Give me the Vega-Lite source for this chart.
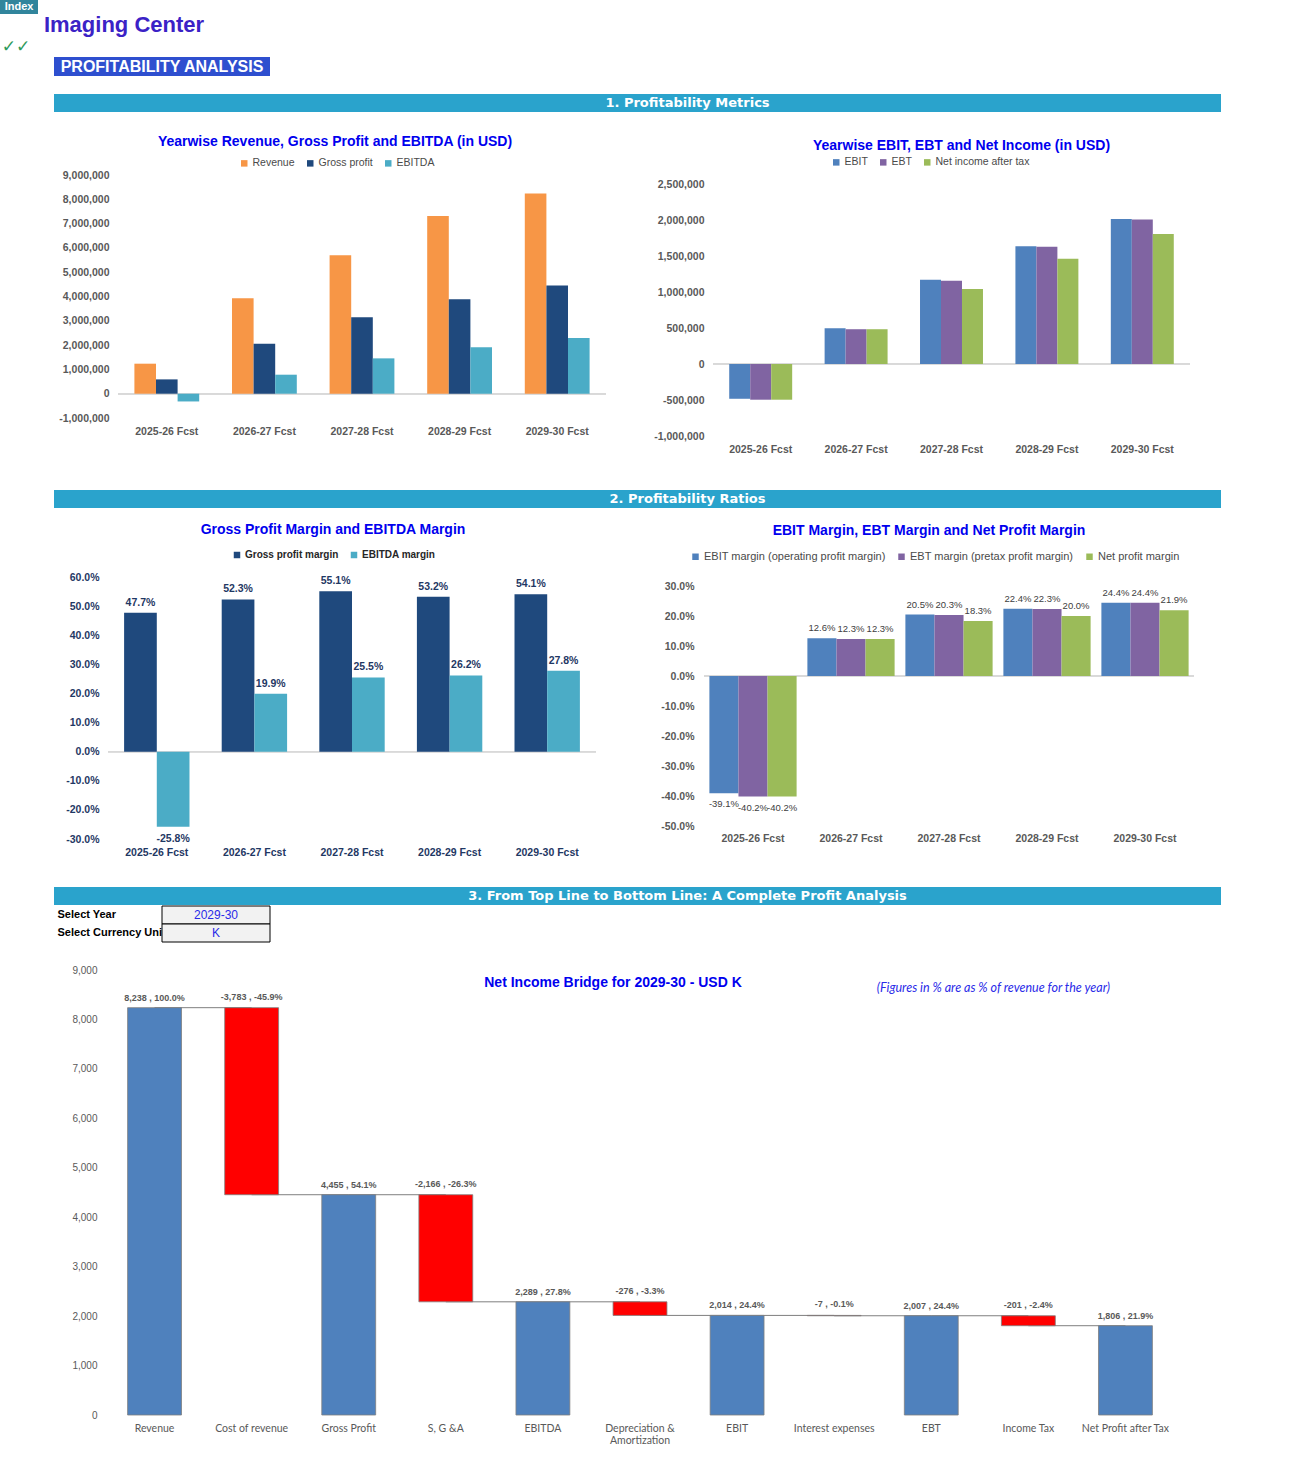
{
  "$schema": "https://vega.github.io/schema/vega-lite/v6.json",
  "background": "white",
  "padding": 0,
  "spacing": 0,
  "resolve": {"scale": {"color": "independent", "xOffset": "independent"}, "legend": {"color": "independent"}},
  "config": {
    "view": {"stroke": null},
    "font": "Liberation Sans",
    "locale": {"number": {"decimal": ".", "thousands": ",", "grouping": [3], "currency": ["$", ""], "minus": "-"}},
    "axis": {"ticks": false, "domain": false, "grid": false, "labelOverlap": false, "labelFontSize": 10.5, "labelFontWeight": "bold", "labelColor": "#595959", "labelFont": "Liberation Sans"},
    "axisX": {"labelAngle": 0, "labelPadding": 8},
    "axisY": {"labelPadding": 9},
    "legend": {"orient": "none", "direction": "horizontal", "symbolType": "square", "symbolSize": 42, "symbolStrokeWidth": 0, "labelFontSize": 10.5, "labelColor": "#4a4a4a", "columnPadding": 10, "labelOffset": 3, "padding": 0, "labelLimit": 0},
    "title": {"font": "Liberation Sans", "fontSize": 14, "fontWeight": "bold", "color": "#0000ee", "anchor": "middle", "frame": "group"}
  },
  "datasets": {
    "m1": [
      {"year": "2025-26 Fcst", "series": "Revenue", "value": 1235000},
      {"year": "2025-26 Fcst", "series": "Gross profit", "value": 589000},
      {"year": "2025-26 Fcst", "series": "EBITDA", "value": -319000},
      {"year": "2026-27 Fcst", "series": "Revenue", "value": 3930000},
      {"year": "2026-27 Fcst", "series": "Gross profit", "value": 2055000},
      {"year": "2026-27 Fcst", "series": "EBITDA", "value": 782000},
      {"year": "2027-28 Fcst", "series": "Revenue", "value": 5700000},
      {"year": "2027-28 Fcst", "series": "Gross profit", "value": 3141000},
      {"year": "2027-28 Fcst", "series": "EBITDA", "value": 1454000},
      {"year": "2028-29 Fcst", "series": "Revenue", "value": 7310000},
      {"year": "2028-29 Fcst", "series": "Gross profit", "value": 3889000},
      {"year": "2028-29 Fcst", "series": "EBITDA", "value": 1915000},
      {"year": "2029-30 Fcst", "series": "Revenue", "value": 8238000},
      {"year": "2029-30 Fcst", "series": "Gross profit", "value": 4455000},
      {"year": "2029-30 Fcst", "series": "EBITDA", "value": 2289000}
    ],
    "m2": [
      {"year": "2025-26 Fcst", "series": "EBIT", "value": -483000},
      {"year": "2025-26 Fcst", "series": "EBT", "value": -496000},
      {"year": "2025-26 Fcst", "series": "Net income after tax", "value": -496000},
      {"year": "2026-27 Fcst", "series": "EBIT", "value": 495000},
      {"year": "2026-27 Fcst", "series": "EBT", "value": 483000},
      {"year": "2026-27 Fcst", "series": "Net income after tax", "value": 483000},
      {"year": "2027-28 Fcst", "series": "EBIT", "value": 1169000},
      {"year": "2027-28 Fcst", "series": "EBT", "value": 1157000},
      {"year": "2027-28 Fcst", "series": "Net income after tax", "value": 1043000},
      {"year": "2028-29 Fcst", "series": "EBIT", "value": 1637000},
      {"year": "2028-29 Fcst", "series": "EBT", "value": 1630000},
      {"year": "2028-29 Fcst", "series": "Net income after tax", "value": 1462000},
      {"year": "2029-30 Fcst", "series": "EBIT", "value": 2014000},
      {"year": "2029-30 Fcst", "series": "EBT", "value": 2007000},
      {"year": "2029-30 Fcst", "series": "Net income after tax", "value": 1806000}
    ],
    "r1": [
      {"year": "2025-26 Fcst", "series": "Gross profit margin", "value": 0.477},
      {"year": "2025-26 Fcst", "series": "EBITDA margin", "value": -0.258},
      {"year": "2026-27 Fcst", "series": "Gross profit margin", "value": 0.523},
      {"year": "2026-27 Fcst", "series": "EBITDA margin", "value": 0.199},
      {"year": "2027-28 Fcst", "series": "Gross profit margin", "value": 0.551},
      {"year": "2027-28 Fcst", "series": "EBITDA margin", "value": 0.255},
      {"year": "2028-29 Fcst", "series": "Gross profit margin", "value": 0.532},
      {"year": "2028-29 Fcst", "series": "EBITDA margin", "value": 0.262},
      {"year": "2029-30 Fcst", "series": "Gross profit margin", "value": 0.541},
      {"year": "2029-30 Fcst", "series": "EBITDA margin", "value": 0.278}
    ],
    "r2": [
      {"year": "2025-26 Fcst", "series": "EBIT margin (operating profit margin)", "value": -0.391},
      {"year": "2025-26 Fcst", "series": "EBT margin (pretax profit margin)", "value": -0.402},
      {"year": "2025-26 Fcst", "series": "Net profit margin", "value": -0.402},
      {"year": "2026-27 Fcst", "series": "EBIT margin (operating profit margin)", "value": 0.126},
      {"year": "2026-27 Fcst", "series": "EBT margin (pretax profit margin)", "value": 0.123},
      {"year": "2026-27 Fcst", "series": "Net profit margin", "value": 0.123},
      {"year": "2027-28 Fcst", "series": "EBIT margin (operating profit margin)", "value": 0.205},
      {"year": "2027-28 Fcst", "series": "EBT margin (pretax profit margin)", "value": 0.203},
      {"year": "2027-28 Fcst", "series": "Net profit margin", "value": 0.183},
      {"year": "2028-29 Fcst", "series": "EBIT margin (operating profit margin)", "value": 0.224},
      {"year": "2028-29 Fcst", "series": "EBT margin (pretax profit margin)", "value": 0.223},
      {"year": "2028-29 Fcst", "series": "Net profit margin", "value": 0.200},
      {"year": "2029-30 Fcst", "series": "EBIT margin (operating profit margin)", "value": 0.244},
      {"year": "2029-30 Fcst", "series": "EBT margin (pretax profit margin)", "value": 0.244},
      {"year": "2029-30 Fcst", "series": "Net profit margin", "value": 0.219}
    ],
    "wf": [
      {"item": "Revenue", "start": 0, "end": 8238, "kind": "total", "label": "8,238 , 100.0%", "next": "Cost of revenue"},
      {"item": "Cost of revenue", "start": 8238, "end": 4455, "kind": "decrease", "label": "-3,783 , -45.9%", "next": "Gross Profit"},
      {"item": "Gross Profit", "start": 0, "end": 4455, "kind": "total", "label": "4,455 , 54.1%", "next": "S, G &A"},
      {"item": "S, G &A", "start": 4455, "end": 2289, "kind": "decrease", "label": "-2,166 , -26.3%", "next": "EBITDA"},
      {"item": "EBITDA", "start": 0, "end": 2289, "kind": "total", "label": "2,289 , 27.8%", "next": "Depreciation & Amortization"},
      {"item": "Depreciation & Amortization", "start": 2289, "end": 2014, "kind": "decrease", "label": "-276 , -3.3%", "next": "EBIT"},
      {"item": "EBIT", "start": 0, "end": 2014, "kind": "total", "label": "2,014 , 24.4%", "next": "Interest expenses"},
      {"item": "Interest expenses", "start": 2014, "end": 2007, "kind": "decrease", "label": "-7 , -0.1%", "next": "EBT"},
      {"item": "EBT", "start": 0, "end": 2007, "kind": "total", "label": "2,007 , 24.4%", "next": "Income Tax"},
      {"item": "Income Tax", "start": 2007, "end": 1806, "kind": "decrease", "label": "-201 , -2.4%", "next": "Net Profit after Tax"},
      {"item": "Net Profit after Tax", "start": 0, "end": 1806, "kind": "total", "label": "1,806 , 21.9%", "next": null}
    ]
  },
  "vconcat": [
    {"width": 38, "height": 14, "view": {"fill": "#31859c"}, "data": {"values": [{"t": "Index"}]}, "mark": {"type": "text", "color": "white", "fontWeight": "bold", "fontSize": 11}, "encoding": {"text": {"field": "t", "type": "nominal"}}},
    {"hconcat": [
      {"width": 43, "height": 1, "data": {"values": []}, "mark": "point"},
      {"width": 162, "height": 22, "data": {"values": [{"t": "Imaging Center"}]}, "mark": {"type": "text", "color": "#3b22c6", "fontWeight": "bold", "fontSize": 22}, "encoding": {"text": {"field": "t", "type": "nominal"}}}
    ], "spacing": 0, "bounds": "flush"},
    {"width": 32, "height": 21, "data": {"values": [{"t": "✓✓"}]}, "mark": {"type": "text", "color": "#2e9a5c", "fontSize": 17, "font": "DejaVu Sans", "fontWeight": "bold"}, "encoding": {"text": {"field": "t", "type": "nominal"}}},
    {"hconcat": [
      {"width": 54, "height": 1, "data": {"values": []}, "mark": "point"},
      {"width": 216, "height": 19, "view": {"fill": "#2e4fcf"}, "data": {"values": [{"t": "PROFITABILITY ANALYSIS"}]}, "mark": {"type": "text", "color": "white", "fontWeight": "bold", "fontSize": 16}, "encoding": {"text": {"field": "t", "type": "nominal"}}}
    ], "spacing": 0, "bounds": "flush"},
    {"width": 1, "height": 18, "data": {"values": []}, "mark": "point"},
    {"hconcat": [
      {"width": 54, "height": 1, "data": {"values": []}, "mark": "point"},
      {"width": 1167, "height": 18, "view": {"fill": "#2aa3cc"}, "data": {"values": [{"t": "1. Profitability Metrics"}]}, "mark": {"type": "text", "color": "white", "fontWeight": "bold", "fontSize": 13, "font": "DejaVu Sans", "dx": 50}, "encoding": {"text": {"field": "t", "type": "nominal"}}}
    ], "spacing": 0, "bounds": "flush"},
    {"width": 1, "height": 23, "data": {"values": []}, "mark": "point"},
    {"hconcat": [
      {"width": 118, "height": 1, "data": {"values": []}, "mark": "point"},
      {
        "width": 488, "height": 243,
        "title": {"text": "Yearwise Revenue, Gross Profit and EBITDA (in USD)", "dx": -27, "offset": 9},
        "data": {"name": "m1"},
        "encoding": {
          "x": {"field": "year", "type": "nominal", "scale": {"domain": ["2025-26 Fcst", "2026-27 Fcst", "2027-28 Fcst", "2028-29 Fcst", "2029-30 Fcst"], "paddingInner": 0.336, "paddingOuter": 0.168}, "axis": {"title": null}},
          "xOffset": {"field": "series", "type": "nominal", "scale": {"domain": ["Revenue", "Gross profit", "EBITDA"], "paddingInner": 0, "paddingOuter": 0}},
          "y": {"field": "value", "type": "quantitative", "scale": {"domain": [-1000000, 9000000], "nice": false}, "axis": {"title": null, "labelOverlap": false, "values": [-1000000, 0, 1000000, 2000000, 3000000, 4000000, 5000000, 6000000, 7000000, 8000000, 9000000], "format": ",d"}}
        },
        "layer": [
          {"mark": {"type": "rule", "color": "#d9d9d9", "strokeWidth": 1}, "encoding": {"x": null, "xOffset": null, "y": {"datum": 0, "type": "quantitative"}}},
          {"mark": {"type": "bar"}, "encoding": {
            "color": {"field": "series", "type": "nominal", "scale": {"domain": ["Revenue", "Gross profit", "EBITDA"], "range": ["#f79646", "#1f497d", "#4bacc6"]}, "legend": {"title": null, "legendX": 121, "legendY": -17}}
          }}
        ]
      },
      {"width": 107, "height": 1, "data": {"values": []}, "mark": "point"},
      {
        "width": 477, "height": 261,
        "title": {"text": "Yearwise EBIT, EBT and Net Income (in USD)", "dx": 10, "offset": 4},
        "data": {"name": "m2"},
        "encoding": {
          "x": {"field": "year", "type": "nominal", "scale": {"domain": ["2025-26 Fcst", "2026-27 Fcst", "2027-28 Fcst", "2028-29 Fcst", "2029-30 Fcst"], "paddingInner": 0.34, "paddingOuter": 0.17}, "axis": {"title": null}},
          "xOffset": {"field": "series", "type": "nominal", "scale": {"domain": ["EBIT", "EBT", "Net income after tax"], "paddingInner": 0, "paddingOuter": 0}},
          "y": {"field": "value", "type": "quantitative", "scale": {"domain": [-1000000, 2625000], "nice": false}, "axis": {"title": null, "labelOverlap": false, "values": [-1000000, -500000, 0, 500000, 1000000, 1500000, 2000000, 2500000], "format": ",d"}}
        },
        "layer": [
          {"mark": {"type": "rule", "color": "#d9d9d9", "strokeWidth": 1}, "encoding": {"x": null, "xOffset": null, "y": {"datum": 0, "type": "quantitative"}}},
          {"mark": {"type": "bar"}, "encoding": {
            "color": {"field": "series", "type": "nominal", "scale": {"domain": ["EBIT", "EBT", "Net income after tax"], "range": ["#4f81bd", "#8064a2", "#9bbb59"]}, "legend": {"title": null, "legendX": 118, "legendY": -18}}
          }}
        ]
      }
    ], "spacing": 0, "bounds": "flush", "resolve": {"scale": {"color": "independent", "xOffset": "independent"}, "legend": {"color": "independent"}}},
    {"width": 1, "height": 35, "data": {"values": []}, "mark": "point"},
    {"hconcat": [
      {"width": 54, "height": 1, "data": {"values": []}, "mark": "point"},
      {"width": 1167, "height": 18, "view": {"fill": "#2aa3cc"}, "data": {"values": [{"t": "2. Profitability Ratios"}]}, "mark": {"type": "text", "color": "white", "fontWeight": "bold", "fontSize": 13, "font": "DejaVu Sans", "dx": 50}, "encoding": {"text": {"field": "t", "type": "nominal"}}}
    ], "spacing": 0, "bounds": "flush"},
    {"width": 1, "height": 15, "data": {"values": []}, "mark": "point"},
    {"hconcat": [
      {"width": 108, "height": 1, "data": {"values": []}, "mark": "point"},
      {
        "width": 488, "height": 262,
        "title": {"text": "Gross Profit Margin and  EBITDA Margin", "dx": -19, "offset": 13},
        "data": {"name": "r1"},
        "encoding": {
          "x": {"field": "year", "type": "nominal", "scale": {"domain": ["2025-26 Fcst", "2026-27 Fcst", "2027-28 Fcst", "2028-29 Fcst", "2029-30 Fcst"], "paddingInner": 0.33, "paddingOuter": 0.165}, "axis": {"title": null, "labelColor": "#1f3864"}},
          "xOffset": {"field": "series", "type": "nominal", "scale": {"domain": ["Gross profit margin", "EBITDA margin"], "paddingInner": 0, "paddingOuter": 0}},
          "y": {"field": "value", "type": "quantitative", "scale": {"domain": [-0.3, 0.6], "nice": false}, "axis": {"title": null, "labelOverlap": false, "values": [-0.3, -0.2, -0.1, 0, 0.1, 0.2, 0.3, 0.4, 0.5, 0.6], "format": ".1%", "labelColor": "#1f3864"}}
        },
        "layer": [
          {"mark": {"type": "rule", "color": "#d9d9d9", "strokeWidth": 1}, "encoding": {"x": null, "xOffset": null, "y": {"datum": 0, "type": "quantitative"}}},
          {"mark": {"type": "bar"}, "encoding": {
            "color": {"field": "series", "type": "nominal", "scale": {"domain": ["Gross profit margin", "EBITDA margin"], "range": ["#1f497d", "#4bacc6"]}, "legend": {"title": null, "legendX": 124, "legendY": -27, "labelColor": "#262626", "labelFontWeight": "bold", "labelFontSize": 10}}
          }},
          {"transform": [{"filter": "datum.value >= 0"}], "mark": {"type": "text", "baseline": "bottom", "dy": -5, "fontSize": 10.5, "fontWeight": "bold", "color": "#1f3864"}, "encoding": {"text": {"field": "value", "type": "quantitative", "format": ".1%"}}},
          {"transform": [{"filter": "datum.value < 0"}], "mark": {"type": "text", "baseline": "top", "dy": 7, "fontSize": 10.5, "fontWeight": "bold", "color": "#1f3864"}, "encoding": {"text": {"field": "value", "type": "quantitative", "format": ".1%"}}}
        ]
      },
      {"width": 108, "height": 1, "data": {"values": []}, "mark": "point"},
      {
        "width": 490, "height": 249,
        "title": {"text": "EBIT Margin, EBT Margin and Net Profit Margin", "dx": -20, "offset": 13},
        "data": {"name": "r2"},
        "encoding": {
          "x": {"field": "year", "type": "nominal", "scale": {"domain": ["2025-26 Fcst", "2026-27 Fcst", "2027-28 Fcst", "2028-29 Fcst", "2029-30 Fcst"], "paddingInner": 0.11, "paddingOuter": 0.055}, "axis": {"title": null, "labelPadding": 7}},
          "xOffset": {"field": "series", "type": "nominal", "scale": {"domain": ["EBIT margin (operating profit margin)", "EBT margin (pretax profit margin)", "Net profit margin"], "paddingInner": 0, "paddingOuter": 0}},
          "y": {"field": "value", "type": "quantitative", "scale": {"domain": [-0.5, 0.33], "nice": false}, "axis": {"title": null, "labelOverlap": false, "values": [-0.5, -0.4, -0.3, -0.2, -0.1, 0, 0.1, 0.2, 0.3], "format": ".1%", "labelPadding": 10}}
        },
        "layer": [
          {"mark": {"type": "rule", "color": "#d9d9d9", "strokeWidth": 1}, "encoding": {"x": null, "xOffset": null, "y": {"datum": 0, "type": "quantitative"}}},
          {"mark": {"type": "bar"}, "encoding": {
            "color": {"field": "series", "type": "nominal", "scale": {"domain": ["EBIT margin (operating profit margin)", "EBT margin (pretax profit margin)", "Net profit margin"], "range": ["#4f81bd", "#8064a2", "#9bbb59"]}, "legend": {"title": null, "legendX": -14, "legendY": -26, "labelFontSize": 11}}
          }},
          {"transform": [{"filter": "datum.value >= 0"}], "mark": {"type": "text", "baseline": "bottom", "dy": -5, "fontSize": 9.5, "color": "#404040"}, "encoding": {"text": {"field": "value", "type": "quantitative", "format": ".1%"}}},
          {"transform": [{"filter": "datum.value < 0"}], "mark": {"type": "text", "baseline": "top", "dy": 6, "fontSize": 9.5, "color": "#404040"}, "encoding": {"text": {"field": "value", "type": "quantitative", "format": ".1%"}}}
        ]
      }
    ], "spacing": 0, "bounds": "flush", "resolve": {"scale": {"color": "independent", "xOffset": "independent"}, "legend": {"color": "independent"}}},
    {"width": 1, "height": 29, "data": {"values": []}, "mark": "point"},
    {"hconcat": [
      {"width": 54, "height": 1, "data": {"values": []}, "mark": "point"},
      {"width": 1167, "height": 18, "view": {"fill": "#2aa3cc"}, "data": {"values": [{"t": "3. From Top Line to Bottom Line: A Complete Profit Analysis"}]}, "mark": {"type": "text", "color": "white", "fontWeight": "bold", "fontSize": 13, "font": "DejaVu Sans", "dx": 50}, "encoding": {"text": {"field": "t", "type": "nominal"}}}
    ], "spacing": 0, "bounds": "flush"},
    {"hconcat": [
      {"width": 162, "height": 1, "data": {"values": []}, "mark": "point"},
      {
        "width": 108, "height": 36,
        "data": {"values": [{"item": "Select Year", "val": "2029-30"}, {"item": "Select Currency Unit", "val": "K"}]},
        "encoding": {"y": {"field": "item", "type": "nominal", "scale": {"domain": ["Select Year", "Select Currency Unit"], "paddingInner": 0, "paddingOuter": 0}, "axis": {"title": null, "labelAlign": "left", "labelPadding": 105, "labelFont": "Liberation Sans", "labelFontSize": 11, "labelFontWeight": "bold", "labelColor": "#000000", "zindex": 0}}},
        "layer": [
          {"mark": {"type": "rect", "fill": "#f2f2f2", "stroke": "#000000", "strokeWidth": 1}},
          {"mark": {"type": "text", "color": "#2a2ae8", "fontSize": 12, "font": "Liberation Sans"}, "encoding": {"text": {"field": "val", "type": "nominal"}}}
        ]
      }
    ], "spacing": 0, "bounds": "flush"},
    {"width": 1, "height": 22, "data": {"values": []}, "mark": "point"},
    {"hconcat": [
      {"width": 106, "height": 1, "data": {"values": []}, "mark": "point"},
      {
        "width": 1068, "height": 445,
        "data": {"name": "wf"},
        "encoding": {
          "x": {"field": "item", "type": "nominal", "scale": {"domain": ["Revenue", "Cost of revenue", "Gross Profit", "S, G &A", "EBITDA", "Depreciation & Amortization", "EBIT", "Interest expenses", "EBT", "Income Tax", "Net Profit after Tax"], "paddingInner": 0.445, "paddingOuter": 0.2225}, "axis": {"title": null, "labelFont": "Lato", "labelFontSize": 10.5, "labelFontWeight": "normal", "labelColor": "#595959", "labelExpr": "datum.value == 'Depreciation & Amortization' ? ['Depreciation &', 'Amortization'] : datum.value"}}
        },
        "layer": [
          {"transform": [{"filter": "datum.next != null"}], "mark": {"type": "rule", "color": "#7f7f7f", "strokeWidth": 1}, "encoding": {"x2": {"field": "next"}, "y": {"field": "end", "type": "quantitative", "scale": {"domain": [0, 9000], "nice": false}, "axis": {"title": null, "labelOverlap": false, "values": [0, 1000, 2000, 3000, 4000, 5000, 6000, 7000, 8000, 9000], "format": ",d", "labelFontWeight": "normal", "labelFontSize": 10}}}},
          {"mark": {"type": "bar", "stroke": "#7f7f7f", "strokeWidth": 0.8}, "encoding": {
            "y": {"field": "start", "type": "quantitative"},
            "y2": {"field": "end"},
            "color": {"field": "kind", "type": "nominal", "scale": {"domain": ["total", "decrease"], "range": ["#4f81bd", "#ff0000"]}, "legend": null}
          }},
          {"transform": [{"filter": "datum.kind == 'total'"}], "mark": {"type": "text", "baseline": "bottom", "dy": -5, "fontSize": 9, "fontWeight": "bold", "color": "#595959"}, "encoding": {"y": {"field": "end", "type": "quantitative"}, "text": {"field": "label", "type": "nominal"}}},
          {"transform": [{"filter": "datum.kind == 'decrease'"}], "mark": {"type": "text", "baseline": "bottom", "dy": -6, "fontSize": 9, "fontWeight": "bold", "color": "#595959"}, "encoding": {"y": {"field": "start", "type": "quantitative"}, "text": {"field": "label", "type": "nominal"}}},
          {"data": {"values": [{"t": "Net Income Bridge for 2029-30 - USD K"}]}, "mark": {"type": "text", "fontSize": 14, "fontWeight": "bold", "color": "#0000ee", "dx": -27}, "encoding": {"x": {"datum": "Depreciation & Amortization"}, "y": {"datum": 8740, "type": "quantitative"}, "text": {"field": "t", "type": "nominal"}}},
          {"data": {"values": [{"t": "(Figures in % are as % of revenue for the year)"}]}, "mark": {"type": "text", "fontSize": 12.5, "fontStyle": "italic", "font": "Lato", "color": "#2a2ae8", "dx": -35}, "encoding": {"x": {"datum": "Income Tax"}, "y": {"datum": 8640, "type": "quantitative"}, "text": {"field": "t", "type": "nominal"}}}
        ]
      }
    ], "spacing": 0, "bounds": "flush"}
  ]
}
